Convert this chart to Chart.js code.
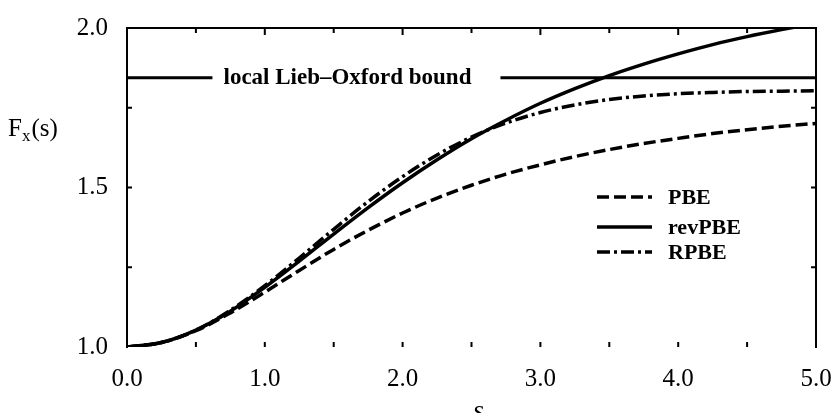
<!DOCTYPE html>
<html>
<head>
<meta charset="utf-8">
<script src="https://cdn.jsdelivr.net/npm/chart.js@4/dist/chart.umd.min.js"></script>
<style>
  html, body { margin: 0; padding: 0; background: #fff; }
  #wrap { width: 833px; height: 413px; }
</style>
</head>
<body>
<div id="wrap"><canvas id="fx"></canvas></div>
<script>
// enhancement factor curves
const sValues = [0, 0.25, 0.5, 0.75, 1.0, 1.25, 1.5, 1.75, 2.0, 2.25, 2.5, 2.75, 3.0, 3.25, 3.5, 3.75, 4.0, 4.25, 4.5, 4.75, 5.0];
const pbe    = [1.000, 1.014, 1.051, 1.107, 1.172, 1.240, 1.306, 1.366, 1.420, 1.467, 1.507, 1.542, 1.571, 1.597, 1.619, 1.638, 1.654, 1.669, 1.681, 1.692, 1.701];
const revPbe = [1.000, 1.014, 1.053, 1.112, 1.187, 1.269, 1.354, 1.437, 1.515, 1.587, 1.653, 1.711, 1.764, 1.810, 1.851, 1.887, 1.919, 1.948, 1.973, 1.995, 2.015];
const rpbe   = [1.000, 1.014, 1.053, 1.115, 1.192, 1.279, 1.369, 1.456, 1.534, 1.602, 1.658, 1.702, 1.735, 1.759, 1.776, 1.787, 1.794, 1.798, 1.801, 1.802, 1.803];

// local Lieb-Oxford bound, broken where the label sits
const loX = [0, 0.62, 1.6, 2.71, 5.0];
const loY = [1.844, 1.844, null, 1.844, 1.844];
const loLabel = 'local Lieb\u2013Oxford bound';
const loLabelAt = 1.6;

const legendItems = [
  { text: 'PBE',    dash: [12, 5] },
  { text: 'revPBE', dash: [] },
  { text: 'RPBE',   dash: [13, 4, 3, 4] }
];

const SERIF = "'Liberation Serif', 'DejaVu Serif', serif";
const toPts = (xs, ys) => xs.map((x, i) => ({ x: x, y: ys[i] }));

const curve = (label, ys, dash) => ({
  label: label,
  data: toPts(sValues, ys),
  borderColor: '#000',
  borderWidth: 3.5,
  borderDash: dash,
  pointRadius: 0,
  cubicInterpolationMode: 'monotone',
  fill: false
});

// frame, inward ticks, legend and free text
const decor = {
  id: 'decor',
  afterDraw(chart) {
    const { ctx, chartArea: a, scales } = chart;
    const xs = scales.x, ys = scales.y;
    ctx.save();
    ctx.strokeStyle = '#000';
    ctx.lineWidth = 2;
    ctx.beginPath();
    ctx.moveTo(a.left, a.bottom + 1);
    ctx.lineTo(a.left, a.top);
    ctx.lineTo(a.right, a.top);
    ctx.lineTo(a.right, a.bottom + 1);
    ctx.stroke();

    // x ticks, top and bottom
    for (let v = 0.5; v < 5; v += 0.5) {
      const px = xs.getPixelForValue(v);
      const major = Math.abs(v - Math.round(v)) < 1e-6;
      ctx.beginPath();
      ctx.moveTo(px, a.top);
      ctx.lineTo(px, a.top + (major ? 7 : 5));
      ctx.moveTo(px, a.bottom);
      ctx.lineTo(px, a.bottom - 5);
      ctx.stroke();
    }
    // y ticks, left and right
    [1.25, 1.5, 1.75].forEach(v => {
      const py = ys.getPixelForValue(v);
      ctx.beginPath();
      ctx.moveTo(a.left, py);
      ctx.lineTo(a.left + 5, py);
      ctx.moveTo(a.right, py);
      ctx.lineTo(a.right - 5, py);
      ctx.stroke();
    });

    // bound label
    ctx.fillStyle = '#000';
    ctx.font = "bold 23px " + SERIF;
    ctx.textAlign = 'center';
    ctx.textBaseline = 'middle';
    ctx.fillText(loLabel, xs.getPixelForValue(loLabelAt), ys.getPixelForValue(1.844));

    // legend
    ctx.textAlign = 'left';
    ctx.font = "bold 22px " + SERIF;
    ctx.lineWidth = 3.5;
    const legX = 597, legY = [197, 227, 252];
    legendItems.forEach((it, i) => {
      ctx.setLineDash(it.dash);
      ctx.beginPath();
      ctx.moveTo(legX, legY[i]);
      ctx.lineTo(legX + 55, legY[i]);
      ctx.stroke();
      ctx.setLineDash([]);
      ctx.fillText(it.text, 668, legY[i] + 1);
    });

    // y axis title F_x(s)
    ctx.font = "25px " + SERIF;
    ctx.textBaseline = 'alphabetic';
    let tx = 8;
    const base = 136;
    ctx.fillText('F', tx, base);
    tx += ctx.measureText('F').width;
    ctx.font = "17px " + SERIF;
    ctx.fillText('x', tx, base + 5);
    tx += ctx.measureText('x').width + 1;
    ctx.font = "25px " + SERIF;
    ctx.fillText('(s)', tx, base);

    // x axis title
    ctx.font = "italic 28px " + SERIF;
    ctx.textAlign = 'center';
    ctx.fillText('s', xs.getPixelForValue(2.55), 419);
    ctx.restore();
  }
};

new Chart(document.getElementById('fx'), {
  type: 'line',
  data: {
    datasets: [
      curve('RPBE', rpbe, [13, 4, 3, 4]),
      curve('PBE', pbe, [12, 5]),
      curve('revPBE', revPbe, []),
      {
        label: 'LO bound',
        data: toPts(loX, loY),
        borderColor: '#000',
        borderWidth: 3,
        pointRadius: 0,
        spanGaps: false,
        fill: false
      }
    ]
  },
  options: {
    responsive: true,
    maintainAspectRatio: false,
    animation: false,
    layout: { padding: { left: 0, right: 17, top: 28, bottom: 0 } },
    scales: {
      x: {
        type: 'linear',
        min: 0, max: 5,
        border: { display: false },
        grid: { display: false, drawTicks: false },
        afterFit: s => { s.height = 66; s.paddingLeft = 0; s.paddingRight = 0; },
        ticks: {
          stepSize: 1,
          padding: 17,
          color: '#000',
          font: { family: SERIF, size: 25 },
          callback: v => Number(v).toFixed(1)
        }
      },
      y: {
        min: 1, max: 2,
        border: { display: false },
        grid: { display: false, drawTicks: false },
        afterFit: s => { s.width = 127; s.paddingTop = 0; s.paddingBottom = 0; },
        ticks: {
          stepSize: 0.5,
          padding: 19,
          color: '#000',
          font: { family: SERIF, size: 25 },
          callback: v => Number(v).toFixed(1)
        }
      }
    },
    plugins: {
      legend: { display: false },
      tooltip: { enabled: false }
    }
  },
  plugins: [decor]
});
</script>
</body>
</html>
